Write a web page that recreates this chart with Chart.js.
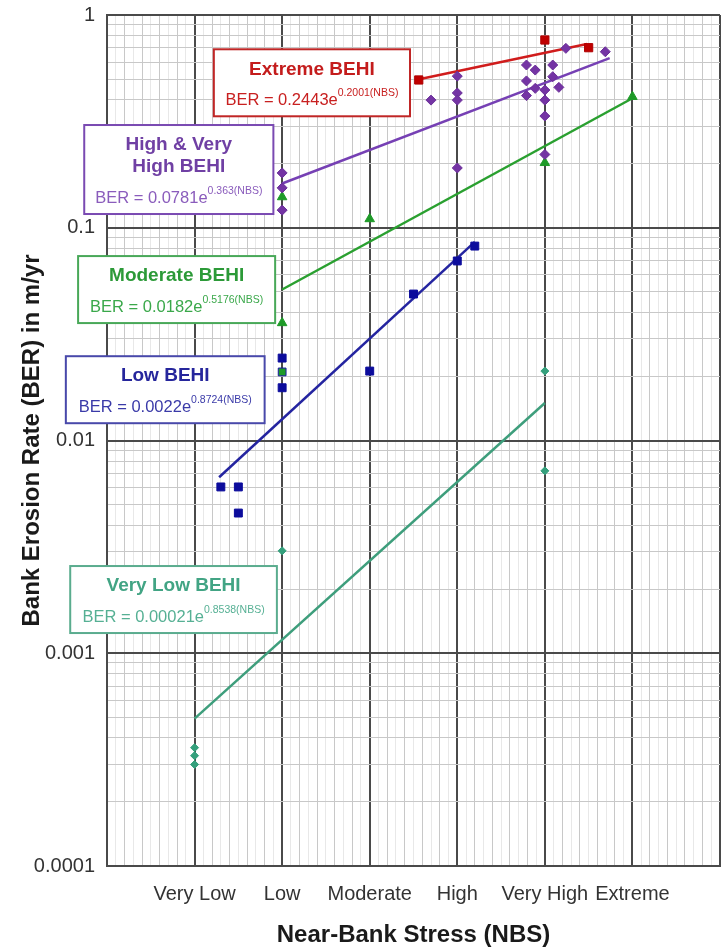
<!DOCTYPE html>
<html>
<head>
<meta charset="utf-8">
<title>Bank Erosion Rate vs Near-Bank Stress</title>
<script src="https://cdn.jsdelivr.net/npm/chart.js@4.4.1/dist/chart.umd.min.js"></script>
<style>
  html, body { margin: 0; padding: 0; background: #ffffff; }
  #wrap { width: 724px; height: 947px; }
</style>
</head>
<body>
<div id="wrap"><canvas id="ber" width="724" height="947"></canvas></div>
<script>
// Near-Bank Stress classes, placed at NBS = 1..6
const nbsCategories = ['Very Low', 'Low', 'Moderate', 'High', 'Very High', 'Extreme'];

// Decade labels on the erosion-rate axis
const yTickValues = [0.0001, 0.001, 0.01, 0.1, 1];
const yTickLabels = ['0.0001', '0.001', '0.01', '0.1', '1'];

// Observed streambank erosion rates (NBS index, BER in m/yr)
const extremeNBS = [3.56, 5.0, 5.5];
const extremeBER = [0.495, 0.763, 0.702];

const highVeryHighNBS = [2, 2, 2, 3.7, 4, 4, 4, 4,
  4.79, 4.79, 4.79, 4.89, 4.89, 5, 5, 5, 5, 5.09, 5.09, 5.16, 5.24, 5.69];
const highVeryHighBER = [0.181, 0.154, 0.121, 0.398, 0.516, 0.43, 0.398, 0.191,
  0.582, 0.49, 0.418, 0.551, 0.452, 0.444, 0.398, 0.335, 0.221, 0.582, 0.513, 0.457, 0.697, 0.672];

const moderateNBS = [2, 2, 2, 3, 5, 6];
const moderateBER = [0.1395, 0.0357, 0.021, 0.11, 0.202, 0.413];

const lowNBS = [1.3, 1.5, 1.5, 2, 2, 3, 3.5, 4, 4.2];
const lowBER = [0.00605, 0.00605, 0.00456, 0.0244, 0.0177, 0.0212, 0.0488, 0.0698, 0.082];

const veryLowNBS = [1, 1, 1, 2, 5, 5];
const veryLowBER = [0.00036, 0.00033, 0.0003, 0.00303, 0.0212, 0.0072];

// Fitted curves BER = a * e^(b * NBS), drawn over [from, to]
const fitNames = ['Extreme BEHI', 'High & Very High BEHI', 'Moderate BEHI', 'Low BEHI', 'Very Low BEHI'];
const fitA = [0.2443, 0.0781, 0.0182, 0.0022, 0.00021];
const fitB = [0.2001, 0.363, 0.5176, 0.8724, 0.8538];
const fitFrom = [3.55, 2, 2, 1.28, 1];
const fitTo = [5.48, 5.74, 6, 4.2, 5];

// ---- styling ----
const FONT = 'Arial, "Liberation Sans", sans-serif';
Chart.defaults.font.family = FONT;

const fitColors = ['#d01c1c', '#7640b4', '#2aa030', '#2424a0', '#3e9e7c'];

const pts = (xs, ys) => xs.map((x, i) => ({ x: x, y: ys[i] }));
const fitCurve = i => [fitFrom[i], fitTo[i]].map(x => ({ x: x, y: fitA[i] * Math.exp(fitB[i] * x) }));

const lineSets = fitNames.map((name, i) => ({
  label: name + ' fit',
  data: fitCurve(i),
  showLine: true,
  borderColor: fitColors[i],
  borderWidth: 2.5,
  pointRadius: 0,
  order: 2
}));

const pointSets = [
  { label: 'Extreme BEHI', data: pts(extremeNBS, extremeBER), pointStyle: 'rect', pointRadius: 5.8,
    backgroundColor: '#c00000', borderColor: '#b00000', borderWidth: 1, order: 1 },
  { label: 'High & Very High BEHI', data: pts(highVeryHighNBS, highVeryHighBER), pointStyle: 'rectRot', pointRadius: 5,
    backgroundColor: '#7434a4', borderColor: '#6a2e98', borderWidth: 1, order: 1 },
  { label: 'Moderate BEHI', data: pts(moderateNBS, moderateBER),
    pointStyle: ctx => ctx.dataIndex === 2 ? 'rect' : 'triangle',
    pointRadius: 5.5,
    backgroundColor: '#1e9a28', borderColor: ctx => ctx.dataIndex === 2 ? '#1a1aa0' : '#1e9a28', borderWidth: 1, order: 1 },
  { label: 'Low BEHI', data: pts(lowNBS, lowBER), pointStyle: 'rect', pointRadius: 5.6,
    backgroundColor: '#0c0c9c', borderColor: '#0c0c9c', borderWidth: 1, order: 1 },
  { label: 'Very Low BEHI', data: pts(veryLowNBS, veryLowBER), pointStyle: 'rectRot', pointRadius: 4,
    backgroundColor: '#34a07c', borderColor: '#34a07c', borderWidth: 1, order: 1 }
];

// Boxed equation notes: left/right in NBS units, top in BER units
const notes = [
  { x1: 1.22, x2: 3.46, top: 0.69, color: '#c41c1c', eqColor: '#c82020', border: '#c02626',
    title: ['Extreme BEHI'], eq: 'BER = 0.2443e', exp: '0.2001(NBS)' },
  { x1: -0.26, x2: 1.9, top: 0.304, color: '#7040a4', eqColor: '#8a5cbc', border: '#7a4ab2',
    title: ['High & Very', 'High BEHI'], eq: 'BER = 0.0781e', exp: '0.363(NBS)' },
  { x1: -0.33, x2: 1.92, top: 0.0736, color: '#2c9a38', eqColor: '#3aa84a', border: '#48a858',
    title: ['Moderate BEHI'], eq: 'BER = 0.0182e', exp: '0.5176(NBS)' },
  { x1: -0.47, x2: 1.8, top: 0.0249, color: '#26269c', eqColor: '#3a3aa8', border: '#4848aa',
    title: ['Low BEHI'], eq: 'BER = 0.0022e', exp: '0.8724(NBS)' },
  { x1: -0.42, x2: 1.94, top: 0.00257, color: '#42a484', eqColor: '#56b094', border: '#5aac8e',
    title: ['Very Low BEHI'], eq: 'BER = 0.00021e', exp: '0.8538(NBS)' }
];

const notePlugin = {
  id: 'fitNotes',
  afterDatasetsDraw(chart) {
    const { ctx, scales: { x, y } } = chart;
    ctx.save();
    notes.forEach(n => {
      const l = x.getPixelForValue(n.x1);
      const r = x.getPixelForValue(n.x2);
      const t = y.getPixelForValue(n.top);
      const cx = (l + r) / 2;
      const titleY0 = t + 20;
      const eqY = titleY0 + 22 * (n.title.length - 1) + 31;
      const b = eqY + 16;
      ctx.fillStyle = '#ffffff';
      ctx.fillRect(l, t, r - l, b - t);
      ctx.strokeStyle = n.border;
      ctx.lineWidth = 2;
      ctx.strokeRect(l, t, r - l, b - t);

      ctx.textBaseline = 'middle';
      ctx.textAlign = 'center';
      ctx.fillStyle = n.color;
      ctx.font = 'bold 19px ' + FONT;
      n.title.forEach((line, k) => ctx.fillText(line, cx, titleY0 + 22 * k));

      ctx.font = '16.5px ' + FONT;
      const w1 = ctx.measureText(n.eq).width;
      ctx.font = '10.5px ' + FONT;
      const w2 = ctx.measureText(n.exp).width;
      const sx = cx - (w1 + w2) / 2;
      ctx.textAlign = 'left';
      ctx.fillStyle = n.eqColor;
      ctx.font = '16.5px ' + FONT;
      ctx.fillText(n.eq, sx, eqY);
      ctx.font = '10.5px ' + FONT;
      ctx.fillText(n.exp, sx + w1, eqY - 7);
    });
    ctx.restore();
  }
};

const isInt = v => Math.abs(v - Math.round(v)) < 1e-6;
const isDecade = v => Math.abs(Math.log10(v) - Math.round(Math.log10(v))) < 1e-6;

new Chart(document.getElementById('ber'), {
  type: 'scatter',
  data: { datasets: lineSets.concat(pointSets) },
  plugins: [notePlugin],
  options: {
    responsive: false,
    devicePixelRatio: 1,
    animation: false,
    layout: { autoPadding: false, padding: { top: 15, right: 4, bottom: 0, left: 0 } },
    plugins: { legend: { display: false }, tooltip: { enabled: false } },
    scales: {
      x: {
        type: 'linear',
        min: 0,
        max: 7,
        afterBuildTicks: scale => {
          const t = [];
          for (let i = 0; i <= 70; i++) t.push({ value: i / 10 });
          scale.ticks = t;
        },
        afterFit: scale => {
          scale.height = 81;
          scale.paddingLeft = 0;
          scale.paddingRight = 0;
        },
        ticks: {
          autoSkip: false,
          maxRotation: 0,
          padding: 0,
          color: '#333333',
          font: { size: 20 },
          callback: v => (isInt(v) && v >= 1 && v <= 6) ? nbsCategories[Math.round(v) - 1] : ''
        },
        grid: {
          drawTicks: true,
          tickLength: 16,
          tickColor: 'rgba(0,0,0,0)',
          color: ctx => {
            const v = ctx.tick ? ctx.tick.value : 0;
            if (isInt(v)) return '#4a4a4a';
            return Math.round(v * 10) % 2 === 0 ? '#c8c8c8' : '#e8e8e8';
          },
          lineWidth: ctx => {
            const v = ctx.tick ? ctx.tick.value : 0;
            return isInt(v) ? 2 : 1;
          }
        },
        border: { display: true, color: '#4a4a4a', width: 2 },
        title: {
          display: true,
          text: 'Near-Bank Stress (NBS)',
          color: '#1a1a1a',
          font: { size: 24, weight: 'bold', lineHeight: 1 },
          padding: { top: 0, bottom: 0 }
        }
      },
      y: {
        type: 'logarithmic',
        min: 0.0001,
        max: 1,
        afterBuildTicks: scale => {
          const t = [];
          for (let e = -4; e < 0; e++) {
            for (let m = 1; m <= 9; m++) t.push({ value: m * Math.pow(10, e) });
          }
          t.push({ value: 1 });
          scale.ticks = t;
        },
        afterFit: scale => { scale.width = 107; },
        ticks: {
          autoSkip: false,
          padding: 0,
          color: '#333333',
          font: { size: 20 },
          callback: v => {
            const i = yTickValues.findIndex(d => Math.abs(d - v) / d < 1e-6);
            return i >= 0 ? yTickLabels[i] : '';
          }
        },
        grid: {
          drawTicks: true,
          tickLength: 12,
          tickColor: 'rgba(0,0,0,0)',
          color: ctx => {
            const v = ctx.tick ? ctx.tick.value : 1;
            return isDecade(v) ? '#4a4a4a' : '#c8c8c8';
          },
          lineWidth: ctx => {
            const v = ctx.tick ? ctx.tick.value : 1;
            return isDecade(v) ? 2 : 1;
          }
        },
        border: { display: true, color: '#4a4a4a', width: 2 },
        title: {
          display: true,
          text: 'Bank Erosion Rate (BER) in m/yr',
          color: '#1a1a1a',
          font: { size: 24, weight: 'bold', lineHeight: 1 },
          padding: { top: 20, bottom: 0 }
        }
      }
    }
  }
});
</script>
</body>
</html>
